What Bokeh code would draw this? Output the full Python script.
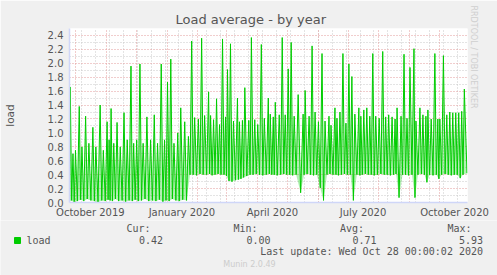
import numpy as np
import pandas as pd
from bokeh.plotting import figure
from bokeh.layouts import column
from bokeh.models import (ColumnDataSource, Range1d, FixedTicker, Grid, Title,
                          DatetimeTickFormatter, PrintfTickFormatter)
from bokeh.core.properties import value
from bokeh.embed import file_html
from bokeh.resources import INLINE

# ---------------- data ----------------
START = "2019-09-25"
SPAN_DAYS = 400

peak_days = [0.8, 3.5, 6.0, 9.8, 12.5, 16.2, 19.5, 23.5, 26.5, 30.8,
             34.0, 37.8, 39.8, 41.8, 44.5, 47.8, 51.0, 54.8, 58.0, 61.8,
             64.5, 67.5, 70.8, 74.0, 77.8, 81.5, 85.2, 88.5, 92.2, 95.5,
             98.5, 101.8, 105.0, 108.8, 111.8, 115.8, 119.5, 122.8, 125.8, 129.5,
             132.8, 135.8, 139.8, 141.8, 144.8, 147.8, 150.8, 153.8, 156.8, 158.8,
             161.8, 164.8, 168.8, 170.8, 173.8, 176.2, 180.2, 182.8,
             186.2, 189.2, 192.8, 195.8, 199.8, 201.8, 204.8, 206.8, 210.8, 213.8,
             216.8, 219.8, 222.8, 225.8, 229.8, 234.8, 236.8, 240.8, 243.8, 246.8,
             250.2, 253.8, 256.8, 260.8, 262.8, 266.8, 268.8, 271.8, 274.8, 277.8,
             280.8, 283.8, 286.8, 290.8, 292.8, 295.8, 298.8, 301.8, 304.8, 307.8,
             311.2, 314.8, 317.8, 320.8, 324.2, 327.2, 329.2, 333.2, 336.2, 339.2,
             342.2, 346.2, 348.2, 352.2, 355.2, 358.2, 360.2, 363.5, 367.2, 370.2,
             372.2, 375.8, 379.2, 382.2, 385.2, 388.2, 391.2, 394.2, 396.8]
peak_vals = [1.66, 0.70, 0.75, 1.38, 0.80, 1.24, 0.85, 1.08, 0.80, 1.40,
             0.75, 1.16, 0.90, 1.35, 0.85, 1.15, 0.80, 1.29, 0.90, 1.96,
             0.85, 0.90, 1.99, 0.85, 1.23, 0.90, 1.26, 0.85, 1.99, 0.90,
             1.73, 2.06, 0.85, 1.00, 1.36, 1.16, 0.95, 2.32, 1.22, 1.20,
             2.36, 1.25, 1.59, 1.25, 1.19, 1.49, 1.12, 2.35, 1.23, 1.91,
             2.28, 1.17, 1.50, 1.16, 1.18, 1.65, 1.18, 2.37,
             1.19, 1.12, 2.27, 1.21, 1.50, 1.27, 1.23, 1.44, 1.26, 2.37,
             1.26, 1.92, 2.30, 1.24, 1.55, 1.27, 1.61, 1.24, 2.25, 1.30,
             1.16, 2.14, 1.17, 1.24, 1.11, 1.36, 1.21, 1.30, 2.14, 1.14,
             1.99, 1.81, 1.27, 1.36, 1.24, 1.33, 1.36, 1.24, 2.14, 1.24,
             1.21, 2.17, 1.23, 1.26, 1.23, 1.20, 1.36, 1.24, 2.13, 1.21,
             1.94, 2.21, 1.17, 1.36, 1.26, 1.24, 1.33, 1.20, 2.14, 1.20,
             1.20, 2.11, 1.26, 1.30, 1.29, 1.29, 1.29, 1.31, 1.63]
valley_vals = [0.02, 0.03, 0.00, 0.02, 0.04, 0.02, 0.05, 0.03, 0.02, 0.00,
               0.03, 0.02, 0.04, 0.03, 0.02, 0.05, 0.02, 0.03, 0.01, 0.03,
               0.02, 0.04, 0.02, 0.03, 0.05, 0.02, 0.03, 0.02, 0.04, 0.01,
               0.03, 0.02, 0.05, 0.03, 0.02, 0.04, 0.03, 0.40, 0.40, 0.39,
               0.41, 0.40, 0.40, 0.41, 0.39, 0.40, 0.41, 0.40, 0.40, 0.38,
               0.31, 0.30, 0.32, 0.33, 0.34, 0.36, 0.38, 0.40,
               0.40, 0.41, 0.40, 0.39, 0.40, 0.41, 0.40, 0.40, 0.39, 0.40,
               0.41, 0.40, 0.40, 0.39, 0.40, 0.14, 0.40, 0.41, 0.40, 0.39,
               0.40, 0.21, 0.03, 0.40, 0.41, 0.40, 0.40, 0.39, 0.40, 0.41,
               0.40, 0.40, 0.03, 0.40, 0.39, 0.40, 0.41, 0.40, 0.40, 0.39,
               0.40, 0.41, 0.40, 0.40, 0.39, 0.40, 0.41, 0.07, 0.40, 0.40,
               0.39, 0.40, 0.07, 0.40, 0.41, 0.40, 0.29, 0.40, 0.39, 0.40,
               0.34, 0.40, 0.41, 0.40, 0.39, 0.40, 0.40, 0.35, 0.40, 0.42]

month_starts = ["2019-10-01", "2019-11-01", "2019-12-01", "2020-01-01", "2020-02-01",
                "2020-03-01", "2020-04-01", "2020-05-01", "2020-06-01", "2020-07-01",
                "2020-08-01", "2020-09-01", "2020-10-01"]
minor_grid_dates = pd.date_range("2019-10-07", "2020-10-28", freq="14D")
label_dates = ["2019-10-16", "2020-01-16", "2020-04-16", "2020-07-16", "2020-10-16"]
y_major = [0.0, 0.2, 0.4, 0.6, 0.8, 1.0, 1.2, 1.4, 1.6, 1.8, 2.0, 2.2, 2.4]
y_minor = [0.1, 0.3, 0.5, 0.7, 0.9, 1.1, 1.3, 1.5, 1.7, 1.9, 2.1, 2.3, 2.5]

title_text = "Load average - by year"
y_label = "load"
side_text = "RRDTOOL / TOBI OETIKER"
series_name = "load"
stat_names = ["Cur:", "Min:", "Avg:", "Max:"]
stat_vals = ["0.42", "0.00", "0.71", "5.93"]
last_update = "Last update: Wed Oct 28 00:00:02 2020"
footer = "Munin 2.0.49"

# ---------------- build series ----------------
pk = np.array(peak_days)
vd = np.concatenate([[0.1], (pk[:-1] + pk[1:]) / 2.0, [SPAN_DAYS - 0.5]])
vv = np.array(valley_vals)
days = np.empty(len(pk) + len(vd))
vals = np.empty_like(days)
days[0::2] = vd
days[1::2] = pk
vals[0::2] = vv
vals[1::2] = np.array(peak_vals)
base = np.interp(days, vd, vv)
start = pd.Timestamp(START)
xs = start + pd.to_timedelta(days, unit="D")
src = ColumnDataSource(dict(x=xs, y=vals, base=base))

def ms(d):
    return pd.Timestamp(d).value / 1e6

W, H = 497, 275
H1 = 220            # height of the chart part; legend part below
FL, FB = 67, 203
GREEN = "#00CC00"
TXT = "#555555"
mono = "DejaVu Sans Mono"

p = figure(width=W, height=H1, output_backend="svg", toolbar_location=None,
           x_axis_type="datetime",
           x_range=Range1d(start, start + pd.Timedelta(days=SPAN_DAYS)),
           y_range=Range1d(0, 2.5),
           min_border_left=FL, min_border_right=W - FL - 400,
           min_border_top=28, min_border_bottom=H1 - FB)
p.frame_align = False
p.background_fill_color = "white"
p.border_fill_color = "#F0F0F0"
p.outline_line_color = None
p.xgrid.visible = False
p.ygrid.visible = False

g_minor_x = Grid(dimension=0, ticker=FixedTicker(ticks=[ms(d) for d in minor_grid_dates]),
                 grid_line_color="#C8C8C8", grid_line_dash="1 2", grid_line_width=1)
g_major_x = Grid(dimension=0, ticker=FixedTicker(ticks=[ms(d) for d in month_starts]),
                 grid_line_color="#E39A9A", grid_line_dash="1 2", grid_line_width=1)
g_y = Grid(dimension=1, ticker=FixedTicker(ticks=y_major, minor_ticks=y_minor),
           grid_line_color="#E39A9A", grid_line_dash="1 2",
           minor_grid_line_color="#C8C8C8", minor_grid_line_dash="1 2")
for g in (g_minor_x, g_y, g_major_x):
    p.add_layout(g)

axc = "#CFD6F8"
p.xaxis.ticker = FixedTicker(ticks=[ms(d) for d in label_dates])
p.xaxis.formatter = DatetimeTickFormatter(days="%B %Y", months="%B %Y", years="%B %Y")
p.yaxis.ticker = FixedTicker(ticks=y_major)
p.yaxis.formatter = PrintfTickFormatter(format="%.1f")
for ax in (p.xaxis[0], p.yaxis[0]):
    ax.axis_line_color = axc
    ax.axis_line_width = 1.5
    ax.major_tick_line_color = None
    ax.minor_tick_line_color = None
    ax.major_tick_out = 0
    ax.major_label_text_font = "DejaVu Sans"
    ax.major_label_text_font_size = "10px"
    ax.major_label_text_color = TXT
p.xaxis.major_label_standoff = 4
p.yaxis.major_label_standoff = 6
p.yaxis.axis_label = y_label
p.yaxis.axis_label_text_font = "DejaVu Sans"
p.yaxis.axis_label_text_font_size = "10.5px"
p.yaxis.axis_label_text_font_style = "normal"
p.yaxis.axis_label_text_color = TXT
p.yaxis.axis_label_standoff = 29

p.varea(x="x", y1="base", y2="y", source=src, fill_color=GREEN, fill_alpha=0.3)
p.line(x="x", y="y", source=src, line_color=GREEN, line_width=1.0)

p.title.text = title_text
p.title.align = "left"
p.title.offset = 106
p.title.text_font = "DejaVu Sans"
p.title.text_font_size = "13px"
p.title.text_font_style = "normal"
p.title.text_color = TXT
p.title.standoff = 4

p.add_layout(Title(text=side_text, align="left", offset=-23, standoff=0,
                   text_font="DejaVu Sans", text_font_size="8px",
                   text_font_style="normal", text_color="#CFCFCF",
                   vertical_align="middle"), "right")

# ---------------- legend / statistics strip ----------------
H2 = H - H1
q = figure(width=W, height=H2, output_backend="svg", toolbar_location=None,
           x_range=Range1d(0, W), y_range=Range1d(H2, 0),
           x_axis_location=None, y_axis_location=None,
           min_border=0, min_border_left=0, min_border_right=0,
           min_border_top=0, min_border_bottom=0)
q.frame_align = False
q.xgrid.visible = False
q.ygrid.visible = False
q.background_fill_color = "#F0F0F0"
q.border_fill_color = "#F0F0F0"
q.outline_line_color = None

def txt(xs_, ys_, texts, align, font=mono, size="10px", color=TXT):
    q.text(x=xs_, y=ys_, text=texts, text_align=align, text_baseline="middle",
           text_font=value(font), text_font_size=size, text_color=color)

name_right = [150, 257, 363.5, 471]
val_right = [162.5, 270, 376, 482.5]
txt(name_right, [227.5 - H1] * 4, stat_names, "right")
txt(val_right, [239.5 - H1] * 4, stat_vals, "right")
txt([26], [239.5 - H1], [series_name], "left")
q.quad(left=[14], right=[20], top=[237 - H1], bottom=[243 - H1],
       fill_color=GREEN, line_color=GREEN)
txt([482.5], [251 - H1], [last_update], "right")
txt([249], [264 - H1], [footer], "center", font="DejaVu Sans", size="8px", color="#CCCCCC")

layout = column(p, q, spacing=0)
open("out.html", "w").write(file_html(layout, INLINE))
